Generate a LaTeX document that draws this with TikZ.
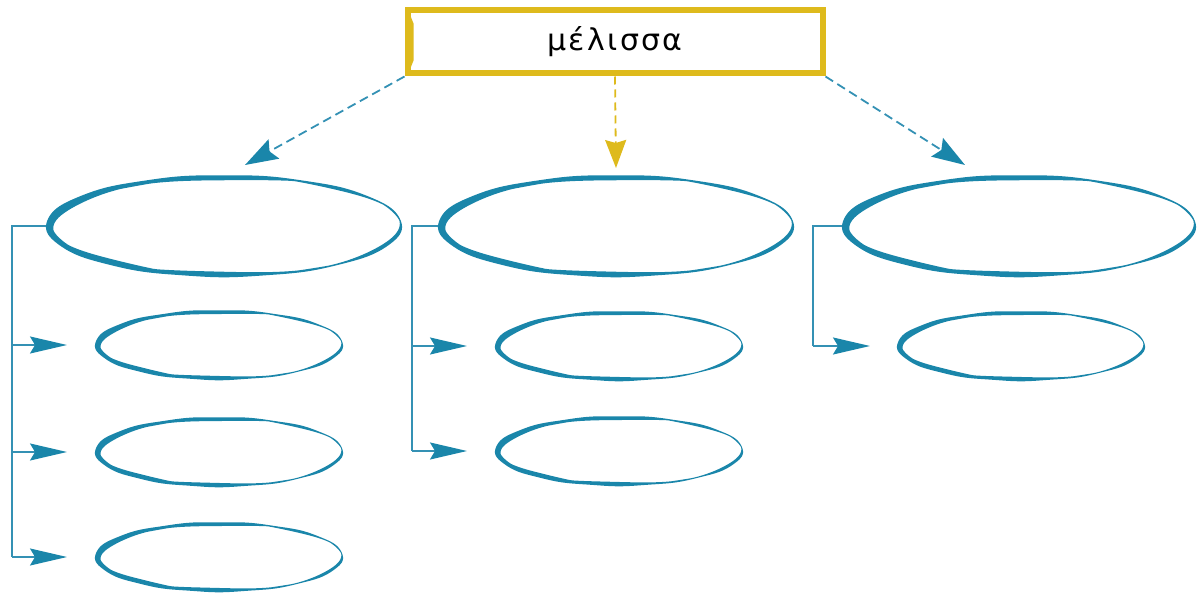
\documentclass[tikz,border=0pt]{standalone}
\usepackage{fontspec}
\newfontfamily\grk[LetterSpace=8]{DejaVu Sans}
\usetikzlibrary{shapes.geometric,arrows.meta}
\definecolor{bl}{RGB}{26,134,170}
\definecolor{bll}{RGB}{52,145,180}
\definecolor{yl}{RGB}{222,186,28}
\tikzset{
  ellnode/.style={ellipse, inner sep=0pt, outer sep=0pt, draw=none},
  topbox/.style={draw=yl, line width=6pt, fill=white, minimum width=415pt, minimum height=63pt, inner sep=0pt},
  bdash/.style={draw=bll, line width=1.8pt, dash pattern=on 9pt off 5pt, -{Stealth[length=33pt,width=22pt,inset=5pt,fill=bl,color=bl]}},
  ydash/.style={draw=yl, line width=1.8pt, dash pattern=on 8pt off 5pt, -{Stealth[length=28pt,width=21pt,inset=3pt,fill=yl]}},
  bus/.style={draw=bll, line width=1.5pt},
  arr/.style={draw=bll, line width=1.5pt, -{Stealth[length=37pt,width=17pt,inset=5pt,color=bl,fill=bl]}}
}
\newcommand\wobel[6]{%
  \node[ellnode, minimum width=#4*2pt, minimum height=#5*2pt] (#1) at (#2,#3) {};
  \fill[bl, even odd rule]
    plot[domain=0:360, samples=241] ({#2+(#4+0.3*sin(13*\x))*cos(\x)}, {#3+(#5+0.3*sin(13*\x))*sin(\x)}) -- cycle
    plot[domain=0:360, samples=241] ({#2+(#4-#6*(0.9+0.75*(1-cos(\x))^2+2.0*abs(sin(3*\x+20))*abs(sin(2*\x+50))))*cos(\x)}, {#3+(#5-#6*(0.9+0.75*(1-cos(\x))^2+2.0*abs(sin(3*\x+20))*abs(sin(2*\x+50))))*sin(\x)}) -- cycle;
}
\begin{document}
\begin{tikzpicture}[x=1pt,y=-1pt]
\useasboundingbox (0,0) rectangle (1197,596);
% top box
\node[topbox] (top) at (615,42) {\fontsize{30}{34}\selectfont\grk μέλισσα};
\fill[yl] ([shift={(5,6)}]top.north west) -- ++(4,10) -- ++(0,37) -- ++(-4,10) -- cycle;
% ellipses
\wobel{L0}{224}{226}{178}{51}{1.7}
\wobel{M0}{616}{226}{178}{51}{1.7}
\wobel{R0}{1019}{226}{177}{51}{1.7}
\wobel{L1}{219}{345}{124}{35}{1.3}
\wobel{L2}{219}{452}{124}{35}{1.3}
\wobel{L3}{219}{557}{124}{35}{1.3}
\wobel{M1}{619}{346}{124}{35}{1.3}
\wobel{M2}{619}{451}{124}{35}{1.3}
\wobel{R1}{1021}{346}{124}{35}{1.3}
% top connectors
\coordinate (ltip) at (245,165);
\coordinate (rtip) at (965,165);
\draw[bdash] (top.south west) -- (ltip);
\draw[bdash] (top.south east) -- (rtip);
\draw[ydash] (top.south) -- ([yshift=7pt]M0.north);
% left column
\coordinate (Lb) at (12,557);
\draw[bus] (L0.west) -| (Lb);
\draw[arr] (L1.west -| Lb) -- ([xshift=-28pt]L1.west);
\draw[arr] (L2.west -| Lb) -- ([xshift=-28pt]L2.west);
\draw[arr] (L3.west -| Lb) -- ([xshift=-28pt]L3.west);
% middle column
\coordinate (Mb) at (412,451);
\draw[bus] (M0.west) -| (Mb);
\draw[arr] (M1.west -| Mb) -- ([xshift=-28pt]M1.west);
\draw[arr] (M2.west -| Mb) -- ([xshift=-28pt]M2.west);
% right column
\coordinate (Rb) at (813,346);
\draw[bus] (R0.west) -| (Rb);
\draw[arr] (Rb) -- ([xshift=-27pt]R1.west);
\end{tikzpicture}
\end{document}
